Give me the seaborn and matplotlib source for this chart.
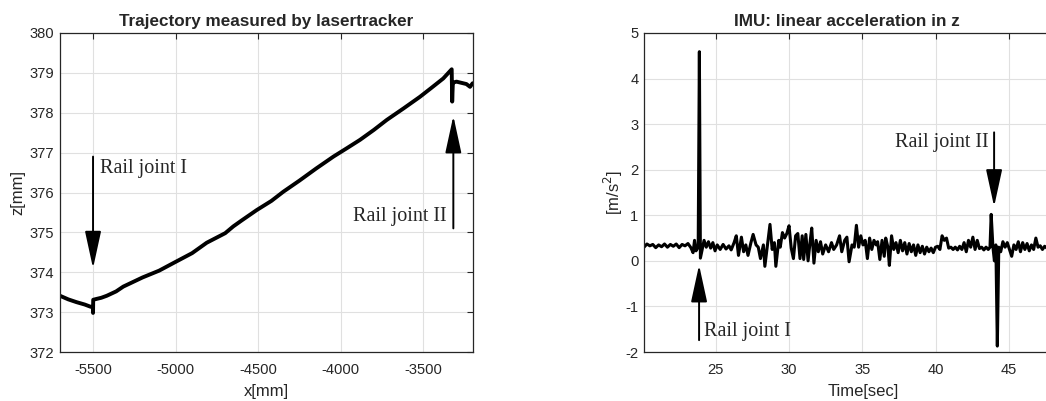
import numpy as np
import pandas as pd
import matplotlib
matplotlib.use("Agg")
import matplotlib.pyplot as plt
import seaborn as sns

# ---- data: left panel (laser tracker trajectory) ----
traj_x = [-5700, -5650, -5600, -5550, -5518, -5501, -5500, -5499, -5480, -5450, -5417,
          -5360, -5317, -5200, -5100, -5014, -4900, -4812, -4700, -4651, -4600, -4509,
          -4420, -4348, -4250, -4150, -4045, -3960, -3884, -3800, -3722, -3620, -3521,
          -3450, -3380, -3329, -3326, -3322, -3318, -3300, -3270, -3240, -3218, -3202]
traj_z = [373.41, 373.32, 373.25, 373.19, 373.14, 373.12, 372.98, 373.31, 373.33, 373.36,
          373.41, 373.52, 373.64, 373.87, 374.04, 374.23, 374.48, 374.74, 374.98, 375.15,
          375.30, 375.56, 375.79, 376.02, 376.30, 376.60, 376.90, 377.12, 377.32, 377.57,
          377.82, 378.11, 378.40, 378.63, 378.86, 379.09, 378.28, 378.74, 378.76, 378.78,
          378.75, 378.72, 378.65, 378.74]

# ---- data: right panel (IMU acceleration in z) ----
imu_t = [20.1, 20.3, 20.5, 20.7, 20.9, 21.1, 21.3, 21.5, 21.7, 21.9, 22.1, 22.3, 22.5,
         22.7, 22.9, 23.1, 23.3, 23.45, 23.55, 23.65, 23.8, 23.88, 23.95, 24.1, 24.2,
         24.35, 24.5, 24.65, 24.8, 24.95, 25.1, 25.3, 25.5, 25.7, 25.9, 26.05, 26.25,
         26.4, 26.55, 26.75, 26.9, 27.05, 27.2, 27.4, 27.55, 27.75, 27.9, 28.05, 28.25,
         28.35, 28.55, 28.7, 28.85, 29.0, 29.1, 29.3, 29.4, 29.55, 29.7, 29.85, 30.0,
         30.15, 30.3, 30.45, 30.6, 30.75, 30.9, 31.0, 31.15, 31.3, 31.45, 31.55, 31.7,
         31.85, 32.0, 32.15, 32.3, 32.5, 32.7, 32.9, 33.05, 33.25, 33.45, 33.6, 33.8,
         33.95, 34.1, 34.3, 34.45, 34.6, 34.75, 34.9, 35.05, 35.2, 35.35, 35.5, 35.65,
         35.8, 35.95, 36.05, 36.2, 36.35, 36.5, 36.6, 36.75, 36.85, 37.0, 37.15, 37.3,
         37.45, 37.6, 37.75, 37.9, 38.05, 38.2, 38.35, 38.5, 38.65, 38.8, 38.95, 39.1,
         39.25, 39.4, 39.55, 39.7, 39.85, 40.0, 40.15, 40.3, 40.45, 40.6, 40.75, 40.9,
         41.05, 41.2, 41.35, 41.5, 41.65, 41.8, 41.95, 42.1, 42.25, 42.4, 42.55, 42.7,
         42.85, 43.0, 43.15, 43.3, 43.45, 43.6, 43.72, 43.8, 43.92, 44.02, 44.12, 44.22,
         44.32, 44.45, 44.6, 44.75, 44.9, 45.05, 45.2, 45.35, 45.5, 45.65, 45.8, 45.95,
         46.1, 46.25, 46.4, 46.55, 46.7, 46.85, 47.0, 47.15, 47.3, 47.45, 47.6, 47.8]
imu_a = [0.30, 0.37, 0.33, 0.36, 0.29, 0.35, 0.31, 0.37, 0.30, 0.36, 0.32, 0.37, 0.29,
         0.36, 0.33, 0.38, 0.29, 0.18, 0.45, 0.22, 0.30, 4.59, 0.06, 0.30, 0.45,
         0.30, 0.42, 0.28, 0.40, 0.22, 0.35, 0.25, 0.36, 0.26, 0.33, 0.24, 0.40,
         0.55, 0.12, 0.52, 0.20, 0.35, 0.12, 0.40, 0.58, 0.35, 0.30, 0.05, 0.35,
         -0.12, 0.40, 0.80, 0.25, 0.40, -0.12, 0.45, 0.30, 0.62, 0.50, 0.60, 0.77,
         0.28, 0.05, 0.55, 0.60, 0.05, 0.55, 0.03, 0.58, 0.00, 0.45, 0.72, -0.05,
         0.45, 0.20, 0.42, 0.15, 0.35, 0.20, 0.40, 0.25, 0.35, 0.55, 0.20, 0.45,
         0.52, -0.02, 0.35, 0.30, 0.78, 0.30, 0.55, 0.35, 0.45, 0.05, 0.50, 0.25,
         0.45, 0.35, 0.42, 0.03, 0.45, 0.10, 0.50, 0.30, -0.10, 0.55, 0.25, 0.40,
         0.18, 0.45, 0.22, 0.40, 0.15, 0.38, 0.20, 0.35, 0.12, 0.35, 0.18, 0.32,
         0.15, 0.30, 0.20, 0.28, 0.18, 0.30, 0.32, 0.25, 0.55, 0.45, 0.50, 0.28,
         0.30, 0.25, 0.30, 0.24, 0.32, 0.25, 0.40, 0.20, 0.45, 0.30, 0.52, 0.25,
         0.45, 0.27, 0.30, 0.24, 0.30, 0.25, 0.30, 1.02, 0.30, 0.00, 0.35, -1.87,
         0.30, 0.20, 0.42, 0.30, 0.40, 0.25, 0.10, 0.35, 0.25, 0.42, 0.20, 0.40,
         0.25, 0.38, 0.22, 0.35, 0.25, 0.50, 0.30, 0.33, 0.25, 0.32, 0.28, 0.30]

left_xticks = [-5500, -5000, -4500, -4000, -3500]
left_yticks = [372, 373, 374, 375, 376, 377, 378, 379, 380]
right_xticks = [25, 30, 35, 40, 45]
right_yticks = [-2, -1, 0, 1, 2, 3, 4, 5]

sns.set_theme(style="white")
plt.rcParams['font.family'] = ['Liberation Sans', 'DejaVu Sans']
plt.rcParams['axes.unicode_minus'] = False

W, H = 1046, 401
fig = plt.figure(figsize=(W / 100, H / 100), dpi=100)
ax1 = fig.add_axes([60 / W, 1 - 352 / H, 413 / W, 319 / H])
ax2 = fig.add_axes([644 / W, 1 - 352 / H, 438 / W, 319 / H])

df1 = pd.DataFrame({"x": traj_x, "z": traj_z})
df2 = pd.DataFrame({"t": imu_t, "a": imu_a})
sns.lineplot(data=df1, x="x", y="z", ax=ax1, color="black", lw=2.8,
             sort=False, estimator=None)
sns.lineplot(data=df2, x="t", y="a", ax=ax2, color="black", lw=2.2,
             sort=False, estimator=None)

tick_color = "#262626"
for ax in (ax1, ax2):
    ax.grid(True, color="#e0e0e0", lw=0.8)
    ax.tick_params(direction="in", top=True, right=True, length=4, width=0.8,
                   color=tick_color, labelsize=10.6, labelcolor=tick_color, pad=4)
    ax.tick_params(axis="x", pad=8)
    for s in ax.spines.values():
        s.set_visible(True)
        s.set_color(tick_color)
        s.set_linewidth(0.9)

ax1.set_xlim(-5700, -3200)
ax1.set_ylim(372, 380)
ax1.set_xticks(left_xticks)
ax1.set_yticks(left_yticks)
ax1.set_xlabel("x[mm]", fontsize=12, color=tick_color, labelpad=5)
ax1.set_ylabel("z[mm]", fontsize=12, color=tick_color, labelpad=3)
ax1.set_title("Trajectory measured by lasertracker", fontsize=12.3,
              fontweight="bold", pad=5)

ax2.set_xlim(20.1, 50)
ax2.set_ylim(-2, 5)
ax2.set_xticks(right_xticks)
ax2.set_yticks(right_yticks)
ax2.set_xlabel("Time[sec]", fontsize=12, color=tick_color, labelpad=5)
ax2.set_ylabel("[m/s$^2$]", fontsize=12, color=tick_color, labelpad=0)
ax2.set_title("IMU: linear acceleration in z", fontsize=12.3,
              fontweight="bold", pad=5, x=(847 - 644) / 438)

arrow = dict(arrowstyle="-|>,head_length=2.3,head_width=0.5", color="black",
             lw=1.4, shrinkA=0, shrinkB=0, mutation_scale=10)
serif = ['Liberation Serif', 'DejaVu Serif']
fs_ann = 14.5
ax1.annotate("", xy=(-5500, 374.1), xytext=(-5500, 376.9), arrowprops=arrow)
ax1.text(-5458, 376.6, "Rail joint I", family=serif, fontsize=fs_ann, va="center", ha="left")
ax1.annotate("", xy=(-3319, 377.92), xytext=(-3319, 375.1), arrowprops=arrow)
ax1.text(-3359, 375.4, "Rail joint II", family=serif, fontsize=fs_ann, va="center", ha="right")

ax2.annotate("", xy=(23.86, -0.09), xytext=(23.86, -1.74), arrowprops=arrow)
ax2.text(24.2, -1.55, "Rail joint I", family=serif, fontsize=fs_ann, va="center", ha="left")
ax2.annotate("", xy=(44.0, 1.19), xytext=(44.0, 2.82), arrowprops=arrow)
ax2.text(43.6, 2.59, "Rail joint II", family=serif, fontsize=fs_ann, va="center", ha="right")

fig.savefig("out.png", dpi=100)
